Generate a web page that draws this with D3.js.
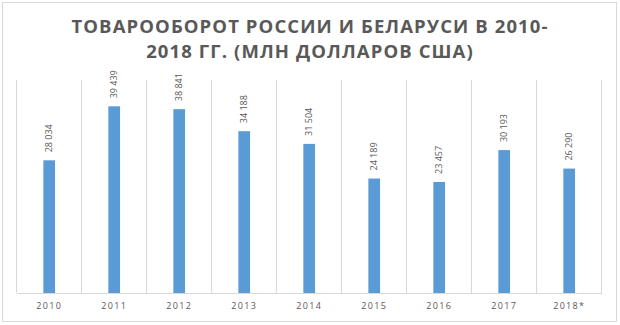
<!DOCTYPE html>
<meta charset="utf-8">
<style>
  body { margin: 0; background: #fff; }
  text { font-family: "Open Sans", sans-serif; }
</style>
<div id="container"></div>
<script src="https://cdn.jsdelivr.net/npm/d3@7"></script>
<script>

const years = ['2010', '2011', '2012', '2013', '2014', '2015', '2016', '2017', '2018*'];
const values = [28034, 39439, 38841, 34188, 31504, 24189, 23457, 30193, 26290];
const titleLines = ['ТОВАРООБОРОТ РОССИИ И БЕЛАРУСИ В 2010-', '2018 ГГ. (МЛН ДОЛЛАРОВ США)'];

const width = 620, height = 325;
const plotLeft = 16.7, plotRight = 601.7, plotTop = 80, plotBottom = 293;

const svg = d3.select('#container').append('svg')
    .attr('width', width)
    .attr('height', height);

// outer frame
svg.append('rect')
    .attr('x', 2.5).attr('y', 2.5)
    .attr('width', 614).attr('height', 319)
    .attr('fill', '#fff')
    .attr('stroke', '#d9d9d9');

// title
svg.append('g').selectAll('text').data(titleLines).enter().append('text')
    .attr('x', 310)
    .attr('y', (d, i) => 33 + i * 24.7)
    .attr('text-anchor', 'middle')
    .attr('fill', '#595959')
    .attr('font-size', 18.5)
    .attr('font-weight', 700)
    .attr('letter-spacing', 1.1)
    .text(d => d);

const x = d3.scaleBand()
    .domain(years)
    .range([plotLeft, plotRight])
    .paddingInner(0.82)
    .paddingOuter(0.41);

const xb = d3.scaleBand().domain(years).range([plotLeft, plotRight]);

const y = d3.scaleLinear()
    .domain([0, 45000])
    .range([plotBottom, plotTop]);

// category gridlines
svg.append('g').selectAll('line').data(years.concat(['end'])).enter().append('line')
    .attr('x1', (d, i) => plotLeft + i * xb.bandwidth())
    .attr('x2', (d, i) => plotLeft + i * xb.bandwidth())
    .attr('y1', plotTop)
    .attr('y2', plotBottom)
    .attr('stroke', '#d9d9d9')
    .attr('shape-rendering', 'crispEdges');

// bars
svg.append('g').selectAll('rect').data(values).enter().append('rect')
    .attr('x', (d, i) => x(years[i]))
    .attr('y', d => y(d))
    .attr('width', x.bandwidth())
    .attr('height', d => y(0) - y(d))
    .attr('fill', '#5b9bd5');

// x axis
const xAxis = svg.append('g')
    .attr('transform', `translate(0,${plotBottom})`)
    .call(d3.axisBottom(xb).tickSize(0).tickPadding(10));
xAxis.select('.domain').attr('stroke', '#d9d9d9');
xAxis.selectAll('text')
    .attr('fill', '#595959')
    .attr('font-size', 9)
    .attr('letter-spacing', 1.3)
    .style('font-family', '"Open Sans", sans-serif');

// value labels
const fmt = d3.formatLocale({ decimal: ',', thousands: ' ', grouping: [3], currency: ['', ''] }).format(',');
svg.append('g').selectAll('text').data(values).enter().append('text')
    .attr('transform', (d, i) => `translate(${xb(years[i]) + xb.bandwidth() / 2},${y(d) - 8}) rotate(-90)`)
    .attr('dy', '0.35em')
    .attr('fill', '#595959')
    .attr('font-size', 9)
    .text(d => fmt(d));

</script>
